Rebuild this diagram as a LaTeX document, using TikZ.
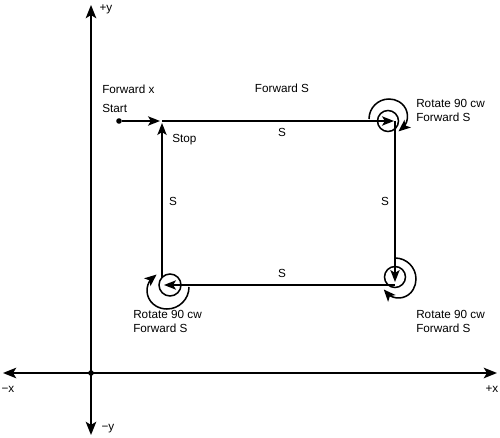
\documentclass[tikz,border=0pt]{standalone}
\usepackage{fontspec}
\setmainfont{Liberation Sans}
\usetikzlibrary{arrows.meta,bending}
\begin{document}
\begin{tikzpicture}[x=0.75pt,y=-0.75pt,
  lbl/.style={font=\fontsize{8.8}{10.5}\selectfont, inner sep=0pt},
  mlbl/.style={lbl, anchor=west, align=left},
  route/.style={line width=1.15pt, -{Stealth[length=9pt,width=7pt,inset=2.2pt]}},
  turn/.style={line width=1.15pt, -{Stealth[length=9pt,width=7.5pt,inset=2.2pt,flex=0.8]}},
  axis/.style={line width=1.15pt, {Stealth[length=10pt,width=8pt,inset=2.5pt]}-{Stealth[length=10pt,width=8pt,inset=2.5pt]}},
  ring/.style={line width=1.15pt},
  dot/.style={circle, fill, inner sep=0pt, minimum size=4.2pt}
]
\useasboundingbox (0,0) rectangle (500,438);
% axes
\coordinate (ytop) at (91,5);
\coordinate (ybot) at (91,435);
\coordinate (xl) at (3,373);
\coordinate (xr) at (497,373);
\draw[axis] (ytop) -- (ybot);
\draw[axis] (xl) -- (xr);
\node[dot] (O) at (91,373) {};
\node[lbl] (py) at (106,9) {+y};
\node[lbl] (my) at (108,429) {−y};
\node[lbl] (mx) at (8,389) {−x};
\node[lbl] (px) at (492,389) {+x};
% corners
\coordinate (TL) at (162,121);
\coordinate (TLin) at (160,121);
\coordinate (TR) at (394,121);
\coordinate (TRo) at (395,121);
\coordinate (BR) at (395,282);
\coordinate (BRo) at (395,285);
\coordinate (BL) at (164,285);
\coordinate (BLo) at (162,278);
\coordinate (TLup) at (162,123);
% start
\node[dot] (start) at (119,121) {};
\draw[route] (start) -- (TLin);
\draw[route] (TL) -- (TR);
\draw[route] (TRo) -- (BR);
\draw[route] (BRo) -- (BL);
\draw[route] (BLo) -- (TLup);
% small circles
\draw[ring] (388,121) circle (10.5);
\draw[ring] (395,277) circle (10.5);
\draw[ring] (170,285) circle (11);
% spirals (y axis points down, so increasing angle runs clockwise on the page)
\coordinate (spTR) at (369,119);
\coordinate (spBR) at (395,258);
\coordinate (spBL) at (189,287);
\draw[turn] (spTR) arc[start angle=180, end angle=300, radius=20] arc[start angle=300, end angle=422, radius=17];
\draw[turn] (spBR) arc[start angle=270, end angle=390, radius=21] arc[start angle=390, end angle=510, radius=17];
\draw[turn] (spBL) arc[start angle=0, end angle=120, radius=22] arc[start angle=120, end angle=242, radius=18];
% labels
\node[lbl, anchor=west] (fx) at (102,89) {Forward x};
\node[lbl, anchor=west] (st) at (102,108) {Start};
\node[lbl, anchor=west] (stop) at (172,140) {Stop};
\node[lbl] (fs) at (282,88) {Forward S};
\node[lbl] (s1) at (282,132) {S};
\node[lbl] (s2) at (385,201) {S};
\node[lbl] (s3) at (173,201) {S};
\node[lbl] (s4) at (282,273) {S};
\node[mlbl] (rtr) at (416,110) {Rotate 90 cw\\Forward S};
\node[mlbl] (rbr) at (416,321) {Rotate 90 cw\\Forward S};
\node[mlbl] (rbl) at (133,321) {Rotate 90 cw\\Forward S};
\end{tikzpicture}
\end{document}
